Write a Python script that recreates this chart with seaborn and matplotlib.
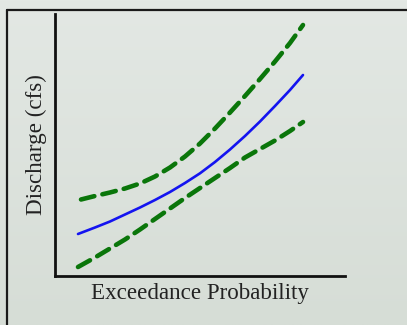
import numpy as np
import pandas as pd
import matplotlib
matplotlib.use("Agg")
import matplotlib.pyplot as plt
import seaborn as sns
from matplotlib.lines import Line2D

# Data (arbitrary units)
x_upper = [26, 40, 55, 70, 85, 100, 115, 130, 145, 160, 175, 190, 205, 220, 235, 248]
upper = [76.5, 80, 83.5, 87.5, 92.5, 99.5, 108.5, 119.5, 132.5, 147.5, 163.5, 180, 197, 214.5, 233, 251]
x_center = [23, 40, 55, 70, 85, 100, 115, 130, 145, 160, 175, 190, 205, 220, 235, 248]
center = [42, 48.5, 54.5, 61.5, 68.5, 76, 84, 93, 102.7, 114, 126.5, 140, 154.5, 170, 186, 201]
x_lower = [23, 40, 55, 70, 85, 100, 115, 130, 145, 160, 175, 190, 205, 220, 235, 248]
lower = [9, 18.5, 27.5, 36.5, 46.5, 57, 67.5, 78, 88, 98, 108, 118.5, 127, 135.5, 145, 154]
x_label = "Exceedance Probability"
y_label = "Discharge (cfs)"

df = pd.DataFrame({
    "x": x_upper + x_center + x_lower,
    "y": upper + center + lower,
    "series": ["upper"] * len(upper) + ["center"] * len(center) + ["lower"] * len(lower),
})

sns.set_style("white")
plt.rcParams["font.family"] = ["Liberation Serif", "DejaVu Serif"]

W, H = 407, 325
fig = plt.figure(figsize=(W / 100, H / 100), dpi=100)

# gradient background
bg = fig.add_axes([0, 0, 1, 1], zorder=-10)
top = np.array([227, 232, 228]) / 255
bot = np.array([214, 221, 214]) / 255
t = np.linspace(0, 1, 200)[:, None]
grad = (top[None, :] * (1 - t) + bot[None, :] * t)[:, None, :]
bg.imshow(grad, aspect="auto", extent=[0, 1, 0, 1])
bg.axis("off")

# border lines
fig.add_artist(Line2D([7 / W, 1.0], [1 - 10 / H, 1 - 10 / H], color="#1a1a1a", lw=1.6, transform=fig.transFigure))
fig.add_artist(Line2D([7 / W, 7 / W], [0, 1 - 10 / H], color="#1a1a1a", lw=1.6, transform=fig.transFigure))

ax = fig.add_axes([55 / W, 49 / H, 290 / W, 262 / H])
ax.set_facecolor("none")

palette = {"upper": "#0a760a", "center": "#1414f0", "lower": "#0a760a"}
dashes = {"upper": (3.0, 1.8), "center": "", "lower": (3.0, 1.8)}
sizes = {"upper": 3.3, "center": 1.9, "lower": 3.3}
sns.lineplot(data=df, x="x", y="y", hue="series", style="series", size="series",
             palette=palette, dashes=dashes, sizes=sizes, legend=False, sort=False,
             estimator=None, ax=ax)
for ln in ax.get_lines():
    ln.set_dash_capstyle("round")
    ln.set_solid_capstyle("round")
    ln.set_solid_joinstyle("round")
    ln.set_dash_joinstyle("round")

ax.set_xlim(0, 290)
ax.set_ylim(0, 262)
ax.set_xticks([])
ax.set_yticks([])
for s in ["top", "right"]:
    ax.spines[s].set_visible(False)
for s in ["left", "bottom"]:
    ax.spines[s].set_color("#111111")
    ax.spines[s].set_linewidth(2.0)

ax.set_xlabel(x_label, fontsize=16.6, color="#222222", labelpad=5)
ax.set_ylabel(y_label, fontsize=16.6, color="#222222", labelpad=6)

fig.savefig("out.png", dpi=100)
